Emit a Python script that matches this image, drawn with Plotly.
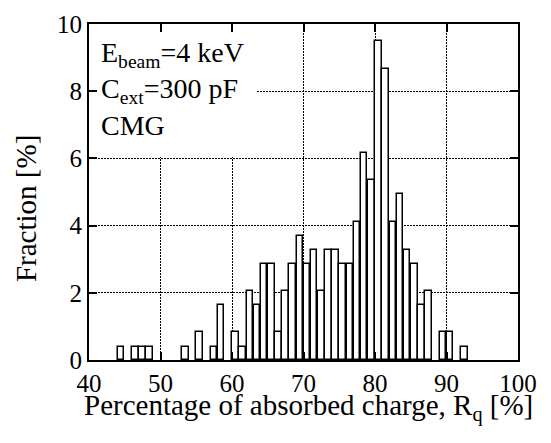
import plotly.graph_objects as go

# Histogram bins (left edge of each 1 % bin of absorbed charge R_q)
bin_left = [44, 46, 47, 48, 53, 55, 57, 58, 60, 61, 62, 63, 64, 65, 66, 67, 68, 69, 70,
            71, 72, 73, 74, 75, 76, 77, 78, 79, 80, 81, 82, 83, 84, 85, 86, 87, 89, 90, 92]
# Fraction of events [%]
fraction = [0.40, 0.40, 0.40, 0.40, 0.40, 0.83, 0.40, 1.65, 0.83, 0.40, 2.05, 1.65, 2.87,
            2.87, 0.83, 2.05, 2.87, 3.70, 2.87, 3.28, 2.05, 3.28, 3.28, 2.87, 2.87, 4.11,
            6.16, 5.37, 9.48, 8.65, 4.11, 4.93, 3.28, 2.87, 1.65, 2.05, 0.83, 0.83, 0.40]

x_ticks = [40, 50, 60, 70, 80, 90, 100]
y_ticks = [0, 2, 4, 6, 8, 10]

TICKFONT = "Times New Roman"
FONT = "Liberation Serif"

fig = go.Figure()
fig.add_trace(go.Bar(
    x=bin_left, y=fraction, width=0.92, offset=0.03,
    marker=dict(color="white", line=dict(color="black", width=1.5)),
    showlegend=False,
))

axis_common = dict(
    showline=True, linewidth=2, linecolor="black", mirror="ticks",
    ticks="inside", ticklen=8, tickwidth=1.5, tickcolor="black",
    showgrid=True, gridcolor="black", gridwidth=1.2, griddash="2px,1px",
    zeroline=False,
    tickfont=dict(family=TICKFONT, size=25, color="black"),
)

fig.update_xaxes(range=[40, 100], tickvals=x_ticks, ticktext=[str(v) for v in x_ticks],
                 **axis_common)
fig.update_yaxes(range=[0, 10], tickvals=y_ticks, ticktext=[str(v) for v in y_ticks],
                 **axis_common)

# label text on a white box (covers grid lines)
fig.add_annotation(
    xref="paper", yref="paper", x=0, y=1, xanchor="left", yanchor="top",
    xshift=8, yshift=-9, showarrow=False, align="left", valign="top",
    width=152, height=116, bgcolor="white", borderpad=4, borderwidth=0,
    text="E<sub>beam</sub>=4 keV<br>C<sub>ext</sub>=300 pF<br>CMG",
    font=dict(family=FONT, size=28, color="black"),
)

fig.add_annotation(
    xref="paper", yref="paper", x=0.5, y=-0.14, xanchor="center", yanchor="middle",
    xshift=5, showarrow=False,
    text="Percentage of absorbed charge, R<sub>q</sub> [%]",
    font=dict(family=FONT, size=29, color="black"),
)
fig.add_annotation(
    xref="paper", yref="paper", x=-0.147, y=0.452, xanchor="center", yanchor="middle",
    textangle=-90, showarrow=False, text="Fraction [%]",
    font=dict(family="serif", size=29, color="black"),
)

fig.update_layout(
    width=551, height=443,
    margin=dict(l=89, r=33, t=24, b=83),
    paper_bgcolor="white", plot_bgcolor="white",
    bargap=0,
)

fig.write_html("out.html")
